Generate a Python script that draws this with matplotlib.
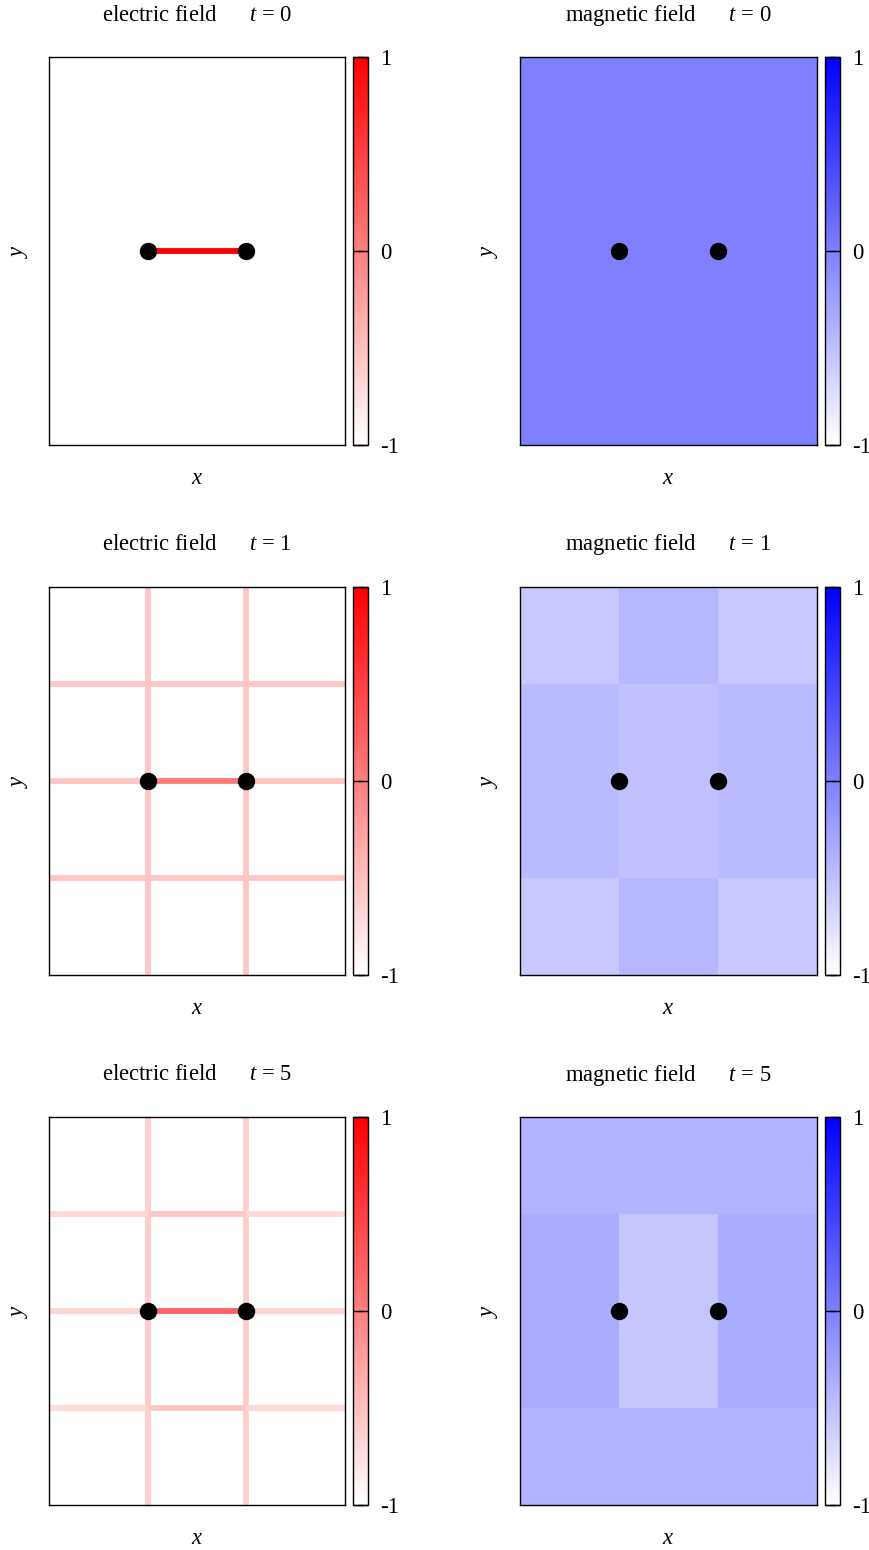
import numpy as np
import matplotlib
matplotlib.use("Agg")
import matplotlib.pyplot as plt
from matplotlib.colors import LinearSegmentedColormap, Normalize
from matplotlib.collections import LineCollection
from matplotlib.cm import ScalarMappable

plt.rcParams['font.family'] = ['Liberation Serif', 'DejaVu Serif']
plt.rcParams['mathtext.fontset'] = 'custom'
plt.rcParams['mathtext.rm'] = 'Liberation Serif'
plt.rcParams['mathtext.it'] = 'Liberation Serif:italic'
plt.rcParams['axes.unicode_minus'] = False

# snapshot times
times = [0, 1, 5]

# electric field on horizontal interior edges: rows y=1,2,3, segments x=0..1,1..2,2..3
ex_t0 = [[-1, -1, -1], [-1, 1, -1], [-1, -1, -1]]
ex_t1 = [[-0.55, -0.55, -0.55], [-0.55, 0.04, -0.55], [-0.55, -0.55, -0.55]]
ex_t5 = [[-0.69, -0.57, -0.69], [-0.66, 0.22, -0.66], [-0.69, -0.57, -0.69]]

# electric field on vertical interior edges: columns x=1,2, segments y=0..1 .. 3..4
ey_t0 = [[-1, -1, -1, -1], [-1, -1, -1, -1]]
ey_t1 = [[-0.55, -0.55, -0.55, -0.55], [-0.55, -0.55, -0.55, -0.55]]
ey_t5 = [[-0.62, -0.6, -0.6, -0.62], [-0.62, -0.6, -0.6, -0.62]]

# magnetic field in cells, rows from bottom (y=0..1) to top (y=3..4)
bz_t0 = [[0, 0, 0], [0, 0, 0], [0, 0, 0], [0, 0, 0]]
bz_t1 = [[-0.57, -0.43, -0.57], [-0.46, -0.51, -0.46], [-0.46, -0.51, -0.46], [-0.57, -0.43, -0.57]]
bz_t5 = [[-0.4, -0.4, -0.4], [-0.35, -0.55, -0.35], [-0.35, -0.55, -0.35], [-0.4, -0.4, -0.4]]

# charges
charge_x = [1, 2]
charge_y = [2, 2]

ex_all = [ex_t0, ex_t1, ex_t5]
ey_all = [ey_t0, ey_t1, ey_t5]
bz_all = [bz_t0, bz_t1, bz_t5]

cmap_e = LinearSegmentedColormap.from_list('wr', ['white', 'red'])
cmap_b = LinearSegmentedColormap.from_list('wb', ['white', 'blue'])
norm = Normalize(-1, 1)

W, H = 869, 1550
fig = plt.figure(figsize=(W / 100, H / 100), dpi=100)

row_tops = [57, 587, 1117]
ax_h = 388
cols = [(49, 296, 353), (520, 297, 825)]
cb_w = 15


def fx(px):
    return px / W


def add_colorbar(top, cx, cmap):
    cax = fig.add_axes([fx(cx), 1 - (top + ax_h) / H, cb_w / W, ax_h / H])
    cb = fig.colorbar(ScalarMappable(norm=norm, cmap=cmap), cax=cax, ticks=[-1, 0, 1])
    cb.ax.set_yticklabels(['-1', '0', '1'])
    cb.outline.set_linewidth(1.0)
    cb.ax.tick_params(direction='in', length=7.5, width=1.0, left=True, right=True,
                      labelsize=16.5, pad=8.5)
    return cax


def decorate(ax, name, t):
    ax.set_xlim(0, 3)
    ax.set_ylim(0, 4)
    ax.set_xticks([])
    ax.set_yticks([])
    for s in ax.spines.values():
        s.set_linewidth(1.0)
    ax.text(0.5, 1 + 42 / ax_h, name + '      $t$ = %d' % t, transform=ax.transAxes,
            ha='center', va='center', fontsize=16.3)
    ax.text(0.5, -33 / ax_h, '$x$', transform=ax.transAxes, ha='center', va='center',
            fontsize=16.3)
    ax.text(-30 / 296, 0.5, '$y$', transform=ax.transAxes, ha='center', va='center',
            fontsize=16.3, rotation=90)
    ax.plot(charge_x, charge_y, 'o', color='black', ms=11.5, zorder=5, clip_on=False)


for r, t in enumerate(times):
    top = row_tops[r]
    bottom = 1 - (top + ax_h) / H

    # electric field
    lx, lw, cx = cols[0]
    ax = fig.add_axes([fx(lx), bottom, lw / W, ax_h / H])
    segs, vals = [], []
    for j, row in enumerate(ey_all[r]):
        xv = j + 1
        for k, v in enumerate(row):
            segs.append([(xv, k), (xv, k + 1)])
            vals.append(v)
    for j, row in enumerate(ex_all[r]):
        yv = j + 1
        for k, v in enumerate(row):
            segs.append([(k, yv), (k + 1, yv)])
            vals.append(v)
    lc = LineCollection(segs, colors=cmap_e(norm(np.array(vals))), linewidths=4.2,
                        capstyle='butt')
    ax.add_collection(lc)
    decorate(ax, 'electric field', t)
    add_colorbar(top, cx, cmap_e)

    # magnetic field
    lx, lw, cx = cols[1]
    ax = fig.add_axes([fx(lx), bottom, lw / W, ax_h / H])
    ax.pcolormesh(np.arange(4), np.arange(5), np.array(bz_all[r]), cmap=cmap_b, norm=norm,
                  shading='flat')
    decorate(ax, 'magnetic field', t)
    add_colorbar(top, cx, cmap_b)

fig.savefig('out.png', dpi=100)
